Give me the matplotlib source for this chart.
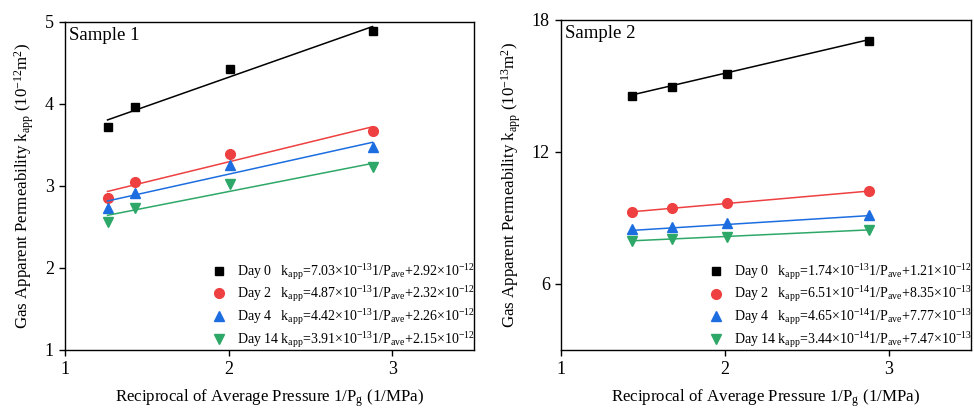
import matplotlib
matplotlib.use("Agg")
import matplotlib.pyplot as plt
import numpy as np

plt.rcParams['font.family'] = ['Liberation Serif', 'DejaVu Serif']
plt.rcParams['mathtext.fontset'] = 'custom'
plt.rcParams['mathtext.rm'] = 'Liberation Serif'
plt.rcParams['mathtext.it'] = 'Liberation Serif:italic'
plt.rcParams['mathtext.bf'] = 'Liberation Serif:bold'

days = ["Day 0", "Day 2", "Day 4", "Day 14"]
colors = ["#000000", "#ee4040", "#1c6ee0", "#2ea868"]
markers = ["s", "o", "^", "v"]

# Sample 1 (units 1e-12 m^2)
s1_x = [1.26, 1.43, 2.01, 2.88]
s1_y = {
    "Day 0": [3.72, 3.96, 4.43, 4.89],
    "Day 2": [2.85, 3.05, 3.39, 3.67],
    "Day 4": [2.73, 2.92, 3.25, 3.48],
    "Day 14": [2.56, 2.73, 3.02, 3.23],
}
s1_slope = [0.703, 0.487, 0.442, 0.391]
s1_icpt = [2.92, 2.32, 2.26, 2.15]
s1_eq = [
    r"k$_{\mathrm{app}}$=7.03×10$^{\mathrm{-13}}$1/P$_{\mathrm{ave}}$+2.92×10$^{\mathrm{-12}}$",
    r"k$_{\mathrm{app}}$=4.87×10$^{\mathrm{-13}}$1/P$_{\mathrm{ave}}$+2.32×10$^{\mathrm{-12}}$",
    r"k$_{\mathrm{app}}$=4.42×10$^{\mathrm{-13}}$1/P$_{\mathrm{ave}}$+2.26×10$^{\mathrm{-12}}$",
    r"k$_{\mathrm{app}}$=3.91×10$^{\mathrm{-13}}$1/P$_{\mathrm{ave}}$+2.15×10$^{\mathrm{-12}}$",
]

# Sample 2 (units 1e-13 m^2)
s2_x = [1.435, 1.675, 2.01, 2.88]
s2_y = {
    "Day 0": [14.54, 14.96, 15.55, 17.05],
    "Day 2": [9.29, 9.45, 9.66, 10.22],
    "Day 4": [8.50, 8.61, 8.76, 9.15],
    "Day 14": [7.97, 8.06, 8.15, 8.45],
}
s2_slope = [1.74, 0.651, 0.465, 0.344]
s2_icpt = [12.1, 8.35, 7.77, 7.47]
s2_eq = [
    r"k$_{\mathrm{app}}$=1.74×10$^{\mathrm{-13}}$1/P$_{\mathrm{ave}}$+1.21×10$^{\mathrm{-12}}$",
    r"k$_{\mathrm{app}}$=6.51×10$^{\mathrm{-14}}$1/P$_{\mathrm{ave}}$+8.35×10$^{\mathrm{-13}}$",
    r"k$_{\mathrm{app}}$=4.65×10$^{\mathrm{-14}}$1/P$_{\mathrm{ave}}$+7.77×10$^{\mathrm{-13}}$",
    r"k$_{\mathrm{app}}$=3.44×10$^{\mathrm{-14}}$1/P$_{\mathrm{ave}}$+7.47×10$^{\mathrm{-13}}$",
]

fig = plt.figure(figsize=(9.74, 4.08), dpi=100)
ax1 = fig.add_axes([65/974, 1-350/408, 409/974, 328/408])
ax2 = fig.add_axes([561/974, 1-350/408, 410/974, 330/408])

def draw(ax, xs, ys, slopes, icpts, eqs, ylim, yticks, unit, title):
    xs = np.array(xs)
    handles = []
    for i, d in enumerate(days):
        h, = ax.plot(xs, ys[d], linestyle='none', marker=markers[i], color=colors[i],
                     markersize=7 if markers[i] != 's' else 5.8)
        ax.plot(xs[[0, -1]], slopes[i]*xs[[0, -1]] + icpts[i], color=colors[i], lw=1.1)
        handles.append(h)
    labels = [f"{d}   {e}" if d != "Day 14" else f"{d} {e}" for d, e in zip(days, eqs)]
    ax.legend(handles, labels, loc='lower right', frameon=False, fontsize=10.0,
              handletextpad=0.45, labelspacing=0.2, borderaxespad=0.0, borderpad=0.25,
              handlelength=1.6, bbox_to_anchor=(1.01, -0.01))
    ax.set_xlim(1, 3.5)
    ax.set_xticks([1, 2, 3])
    ax.set_ylim(*ylim)
    ax.set_yticks(yticks)
    ax.tick_params(direction='out', length=4, width=1, labelsize=13, pad=4)
    for s in ax.spines.values():
        s.set_linewidth(1.0)
    ax.set_xlabel(r"Reciprocal of Average Pressure 1/P$_{\mathrm{g}}$ (1/MPa)", fontsize=12.2, labelpad=7)
    ax.set_ylabel(r"Gas Apparent Permeability k$_{\mathrm{app}}$ (10$^{\mathrm{" + unit + r"}}$m$^{\mathrm{2}}$)",
                  fontsize=12.2, labelpad=6)
    ax.text(0.01, 0.985, title, transform=ax.transAxes, ha='left', va='top', fontsize=13.5)

draw(ax1, s1_x, s1_y, s1_slope, s1_icpt, s1_eq, (1, 5), [1, 2, 3, 4, 5], "-12", "Sample 1")
draw(ax2, s2_x, s2_y, s2_slope, s2_icpt, s2_eq, (3, 18), [6, 12, 18], "-13", "Sample 2")

fig.savefig("out.png", dpi=100)
